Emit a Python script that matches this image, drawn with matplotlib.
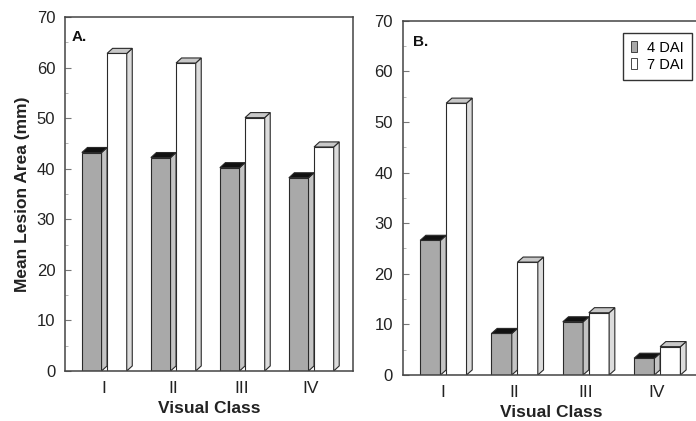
import matplotlib
matplotlib.use("Agg")
import matplotlib.pyplot as plt
from matplotlib.patches import Polygon, Patch
import numpy as np

plt.rcParams['font.family'] = ['Liberation Sans', 'DejaVu Sans']

# Data
classes = ["I", "II", "III", "IV"]
dai4_a = [43.2, 42.2, 40.2, 38.2]
dai7_a = [62.8, 60.9, 50.1, 44.3]
dai4_b = [26.6, 8.2, 10.5, 3.3]
dai7_b = [53.7, 22.3, 12.3, 5.6]

EDGE = "#2a2a2a"
# 3D look: width of the front face, depth offset in x (category units) and y (data units)
W = 0.285
DX = 0.08
DY = 1.0


def bar3d(ax, xs, heights, front, top, side):
    # front faces through matplotlib's own bar
    ax.bar(xs, heights, width=W, align="edge", color=front, edgecolor=EDGE,
           linewidth=0.8, zorder=2)
    for x0, h in zip(xs, heights):
        side_pts = [(x0 + W, 0), (x0 + W + DX, DY), (x0 + W + DX, h + DY), (x0 + W, h)]
        top_pts = [(x0, h), (x0 + DX, h + DY), (x0 + W + DX, h + DY), (x0 + W, h)]
        ax.add_patch(Polygon(side_pts, closed=True, facecolor=side, edgecolor=EDGE,
                             linewidth=0.8, zorder=2))
        ax.add_patch(Polygon(top_pts, closed=True, facecolor=top, edgecolor=EDGE,
                             linewidth=0.8, zorder=2))


def panel(ax, v4, v7, letter, lx, ly):
    x = np.arange(len(classes))
    left4 = x - 0.32
    left7 = left4 + W + DX
    bar3d(ax, left4, v4, "#a9a9a9", "#111111", "#c4c4c4")
    bar3d(ax, left7, v7, "white", "#c8c8c8", "#dcdcdc")

    ax.set_xlim(-0.565, 3.61)
    ax.set_ylim(0, 70)
    ax.set_yticks(range(0, 71, 10))
    ax.set_yticks(range(5, 70, 10), minor=True)
    ax.set_xticks(x)
    ax.set_xticklabels(classes)
    ax.tick_params(axis="x", length=0, labelsize=12.5, pad=7, labelcolor="#222")
    ax.tick_params(axis="y", which="major", direction="in", length=4, width=0.8,
                   color="#777", labelsize=12, pad=7, labelcolor="#222")
    ax.tick_params(axis="y", which="minor", direction="in", length=2.5, width=0.6,
                   color="#aaa")
    for s in ax.spines.values():
        s.set_color("#444")
        s.set_linewidth(1.1)
    ax.set_xlabel("Visual Class", fontsize=12.5, fontweight="bold", color="#222", labelpad=4)
    ax.text(lx, ly, letter, transform=ax.transAxes, fontsize=11, fontweight="bold",
            va="center", ha="left", color="#111")


fig = plt.figure(figsize=(6.96, 4.21), dpi=100)
ax1 = fig.add_axes([0.0934, 0.1188, 0.4138, 0.8408])
ax2 = fig.add_axes([0.5786, 0.1093, 0.4277, 0.8416])

panel(ax1, dai4_a, dai7_a, "A.", 0.023, 0.944)
panel(ax2, dai4_b, dai7_b, "B.", 0.035, 0.941)

ax1.set_ylabel("Mean Lesion Area (mm)", fontsize=12.5, fontweight="bold", color="#222",
               labelpad=5)

handles = [Patch(facecolor="#a9a9a9", edgecolor=EDGE, linewidth=0.6),
           Patch(facecolor="white", edgecolor=EDGE, linewidth=0.6)]
leg = ax2.legend(handles, ["4 DAI", "7 DAI"], loc="upper right",
                 bbox_to_anchor=(0.971, 0.966), fontsize=10.5, handlelength=0.4,
                 handleheight=0.8, handletextpad=0.7, labelspacing=0.2,
                 borderpad=0.55, borderaxespad=0, fancybox=False, framealpha=1)
leg.get_frame().set_edgecolor("#333")
leg.get_frame().set_linewidth(1.0)
leg.set_zorder(5)

fig.savefig("out.png", dpi=100)
